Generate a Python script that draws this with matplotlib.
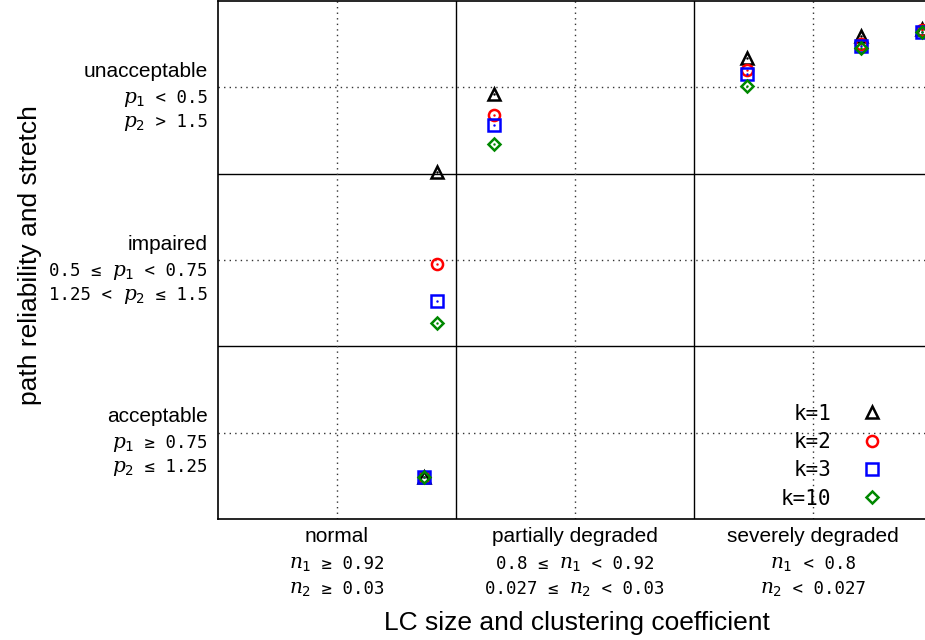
import matplotlib
matplotlib.use("Agg")
import matplotlib.pyplot as plt
from matplotlib.lines import Line2D
from matplotlib.font_manager import FontProperties
from matplotlib.offsetbox import TextArea, HPacker, AnnotationBbox

plt.rcParams['mathtext.fontset'] = 'custom'
plt.rcParams['mathtext.it'] = 'DejaVu Serif:italic'
plt.rcParams['mathtext.rm'] = 'DejaVu Sans Mono'

# positions of the six scenarios (x in category units, y in class units)
x_pos = [0.866, 0.922, 1.16, 2.223, 2.70, 2.96]
y_k1 = [0.243, 2.01, 2.462, 2.671, 2.798, 2.84]
y_k2 = [0.243, 1.474, 2.341, 2.601, 2.751, 2.83]
y_k3 = [0.243, 1.26, 2.283, 2.578, 2.74, 2.82]
y_k10 = [0.243, 1.133, 2.173, 2.509, 2.728, 2.82]

series_labels = ['k=1', 'k=2', 'k=3', 'k=10']

y_class = ['acceptable', 'impaired', 'unacceptable']
y_cond1 = [('', '$p_1$', ' ≥ 0.75'), ('0.5 ≤ ', '$p_1$', ' < 0.75'), ('', '$p_1$', ' < 0.5')]
y_cond2 = [('', '$p_2$', ' ≤ 1.25'), ('1.25 < ', '$p_2$', ' ≤ 1.5'), ('', '$p_2$', ' > 1.5')]

x_class = ['normal', 'partially degraded', 'severely degraded']
x_cond1 = [('', '$n_1$', ' ≥ 0.92'), ('0.8 ≤ ', '$n_1$', ' < 0.92'), ('', '$n_1$', ' < 0.8')]
x_cond2 = [('', '$n_2$', ' ≥ 0.03'), ('0.027 ≤ ', '$n_2$', ' < 0.03'), ('', '$n_2$', ' < 0.027')]

sans = 'Liberation Sans'
mono = 'DejaVu Sans Mono'

fig = plt.figure(figsize=(9.25, 6.4), dpi=100)
ax = fig.add_axes([218/925, 1 - 519/640, 1 - 218/925, 518/640])

ax.set_xlim(0, 707/238)
ax.set_ylim(0, 3)

# region borders and centre lines
for v in [1, 2]:
    ax.axvline(v, color='black', lw=1.0, zorder=1)
    ax.axhline(v, color='black', lw=1.0, zorder=1)
for v in [0.5, 1.5, 2.5]:
    ax.axvline(v, color='#333333', lw=1.0, ls=(0, (1, 3)), zorder=1)
    ax.axhline(v, color='#333333', lw=1.0, ls=(0, (1, 3)), zorder=1)

styles = [('^', 'black'), ('o', 'red'), ('s', 'blue'), ('D', '#008800')]
sizes = [8, 8, 8, 6]
handles = []
for ys, (m, c), ms, lab in zip([y_k1, y_k2, y_k3, y_k10], styles, sizes, series_labels):
    ax.plot(x_pos, ys, ls='none', marker=m, ms=ms, mfc='none', mec=c,
            mew=1.8, zorder=3, clip_on=False)
    ax.plot(x_pos, ys, ls='none', marker='.', ms=1.5, color=c, zorder=3, clip_on=False)
    handles.append(Line2D([], [], ls='none', marker=m, ms=ms, mfc='none',
                          mec=c, mew=1.8, label=lab))

ax.legend(handles=handles, loc='lower right', bbox_to_anchor=(0.94, 0.02),
          frameon=False, markerfirst=False,
          prop=FontProperties(family=mono, size=15),
          handlelength=1.0, handletextpad=1.45, labelspacing=0.4,
          borderpad=0, borderaxespad=0)

ax.set_xticks([0.5, 1.5, 2.5])
ax.set_yticks([0.5, 1.5, 2.5])
ax.set_xticklabels([])
ax.set_yticklabels([])
ax.tick_params(length=0)
ax.spines['right'].set_visible(False)
for s in ['left', 'bottom', 'top']:
    ax.spines[s].set_linewidth(1.2)


def cond_label(parts, xy, xycoords, offset, align):
    pre, var, post = parts
    kids = []
    if pre:
        kids.append(TextArea(pre, textprops=dict(family=mono, fontsize=12.5)))
    kids.append(TextArea(var, textprops=dict(family=mono, fontsize=14.5)))
    kids.append(TextArea(post, textprops=dict(family=mono, fontsize=12.5)))
    box = HPacker(children=kids, align='baseline', pad=0, sep=0)
    ab = AnnotationBbox(box, xy, xycoords=xycoords, xybox=offset,
                        boxcoords='offset points', box_alignment=align,
                        frameon=False, pad=0, annotation_clip=False)
    ax.add_artist(ab)


px = 0.72
for i, yv in enumerate([0.5, 1.5, 2.5]):
    ax.annotate(y_class[i], xy=(0, yv), xycoords=('axes fraction', 'data'),
                xytext=(-10*px, 16*px), textcoords='offset points',
                ha='right', va='center', family=sans, fontsize=15)
    cond_label(y_cond1[i], (0, yv), ('axes fraction', 'data'), (-10*px, -11*px), (1, 0.5))
    cond_label(y_cond2[i], (0, yv), ('axes fraction', 'data'), (-10*px, -35*px), (1, 0.5))

for i, xv in enumerate([0.5, 1.5, 2.5]):
    ax.annotate(x_class[i], xy=(xv, 0), xycoords=('data', 'axes fraction'),
                xytext=(0, -18*px), textcoords='offset points',
                ha='center', va='center', family=sans, fontsize=15)
    cond_label(x_cond1[i], (xv, 0), ('data', 'axes fraction'), (0, -45*px), (0.5, 0.5))
    cond_label(x_cond2[i], (xv, 0), ('data', 'axes fraction'), (0, -70*px), (0.5, 0.5))

fig.text(577/925, 1 - 623/640, 'LC size and clustering coefficient',
         ha='center', va='center', family=sans, fontsize=19)
fig.text(30/925, 1 - 255/640, 'path reliability and stretch', rotation=90,
         ha='center', va='center', family=sans, fontsize=19)

fig.savefig('out.png', dpi=100)
